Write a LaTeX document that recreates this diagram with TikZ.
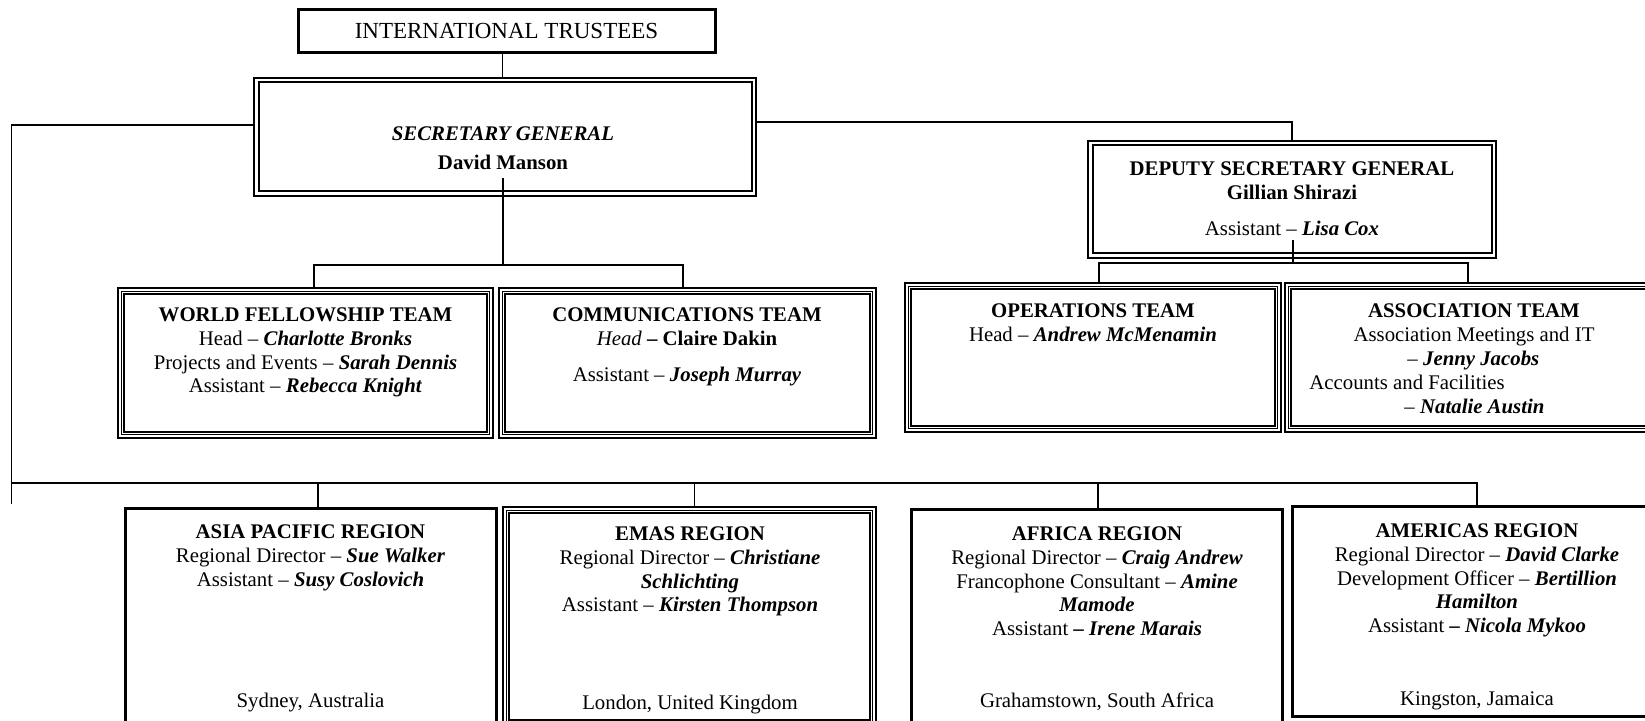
\documentclass[tikz,border=0pt]{standalone}
\usepackage{fontspec}
\setmainfont{Liberation Serif}
\usetikzlibrary{fit}

% bold italic names
\newcommand\nm[1]{\textbf{\textit{#1}}}
% centred stack of lines whose baseline is the first line
\newcommand\linesof[1]{\begin{tabular}[t]{@{}c@{}}#1\end{tabular}}
% a framed box spanning two corners (pixel units, y downwards)
\newcommand\orgbox[6]{\node[#2, fit={(#3,#4) (#5,#6)}] (#1) {};}
% an extra rule drawn inside a box at a given inset
\newcommand\boxinset[3]{\draw[line width=#3] ([shift={(#2,#2)}]#1.north west) rectangle ([shift={(-#2,-#2)}]#1.south east);}

\tikzset{
  conn/.style={line width=0.65pt},
  boxframe/.style={inner sep=0pt, outer sep=0pt, draw},
  onebox/.style={boxframe, line width=1.5pt},
  twobox/.style={boxframe, line width=1.15pt},
  threebox/.style={boxframe, line width=1.2pt},
  txt/.style={inner sep=0pt, anchor=base, font=\fontsize{10.4}{11.8}\selectfont},
  txtw/.style={txt, anchor=base west},
}

\begin{document}
\begin{tikzpicture}[x=0.5pt, y=-0.5pt]
\useasboundingbox (0,0) rectangle (1645,721);
\clip (0,0) rectangle (1645,721);

% ---------- boxes ----------
\orgbox{it}{onebox}{298.5}{9.5}{715.5}{52.5}
\orgbox{sg}{twobox}{254}{78}{756}{196}
\boxinset{sg}{4.5}{1pt}
\orgbox{dsg}{twobox}{1088}{141}{1496}{258}
\boxinset{dsg}{4.5}{1pt}

\orgbox{wf}{threebox}{118}{288}{493}{438}
\boxinset{wf}{3.2}{0.5pt}\boxinset{wf}{6}{0.8pt}
\orgbox{comm}{threebox}{499}{288}{876}{438}
\boxinset{comm}{3.2}{0.5pt}\boxinset{comm}{6}{0.8pt}
\orgbox{ops}{threebox}{905}{283}{1281}{432}
\boxinset{ops}{3.2}{0.5pt}\boxinset{ops}{6}{0.8pt}
\orgbox{assoc}{threebox}{1285}{283}{1662}{432}
\boxinset{assoc}{3.2}{0.5pt}\boxinset{assoc}{6}{0.8pt}

\orgbox{asia}{onebox}{125}{509}{496}{745}
\orgbox{emas}{threebox}{503}{507}{876}{726}
\boxinset{emas}{3.2}{0.5pt}\boxinset{emas}{6}{0.8pt}
\orgbox{africa}{onebox}{911}{510}{1282}{745}
\orgbox{americas}{onebox}{1292}{507}{1662}{716}

% ---------- connectors ----------
\coordinate (itdrop) at (502.5,53);
\draw[conn] (itdrop) -- (itdrop |- sg.north);

\draw[conn] (sg.east |- 0,122) -| (dsg.north);

\coordinate (sgtap) at (503,178);
\draw[conn] (sgtap) -- (503,265);
\draw[conn] (314,0 |- wf.north) |- (683,265) -- (683,0 |- comm.north);

\coordinate (dsgtap) at (1293,240);
\draw[conn] (dsgtap) -- (1293,263);
\draw[conn] (1099,0 |- ops.north) |- (1468,263) -- (1468,0 |- assoc.north);

\coordinate (regbus) at (11.5,483);
\draw[conn] (sg.west |- 0,125) -| (11.5,504);
\draw[conn] (regbus) -| (americas.north);
\foreach \x/\n in {318/asia, 694.5/emas, 1098/africa}
  \draw[conn] (\x,483) -- (\x,0 |- \n.north);

% ---------- texts ----------
\node[txt, font=\fontsize{11.5}{13}\selectfont] (itt) at (506.5,39) {INTERNATIONAL TRUSTEES};

\node[txt] (sgt) at (503,141) {\linesof{\nm{SECRETARY GENERAL}\\[2.7pt]\textbf{David Manson}}};

\node[txt] (dsgt) at (1292,176) {\linesof{\textbf{DEPUTY SECRETARY GENERAL}\\
  \textbf{Gillian Shirazi}\\[6.2pt]
  Assistant \textendash{} \nm{Lisa Cox}}};

\node[txt] (wft) at (305.5,322) {\linesof{\textbf{WORLD FELLOWSHIP TEAM}\\
  Head \textendash{} \nm{Charlotte Bronks}\\
  Projects and Events \textendash{} \nm{Sarah Dennis}\\
  Assistant \textendash{} \nm{Rebecca Knight}}};

\node[txt] (commt) at (687,322) {\linesof{\textbf{COMMUNICATIONS TEAM}\\
  \textit{Head} \textbf{\textendash{} Claire Dakin}\\[6.2pt]
  Assistant \textendash{} \nm{Joseph Murray}}};

\node[txt] (opst) at (1093,318) {\linesof{\textbf{OPERATIONS TEAM}\\
  Head \textendash{} \nm{Andrew McMenamin}}};

\node[txt] (assoct) at (1474,318) {\linesof{\textbf{ASSOCIATION TEAM}\\
  Association Meetings and IT}};
\node[txtw] (assoc1) at (1407,366) {\textendash{} \nm{Jenny Jacobs}};
\node[txtw] (assoc2) at (1309,390) {Accounts and Facilities};
\node[txtw] (assoc3) at (1404,414) {\textendash{} \nm{Natalie Austin}};

\node[txt] (asiat) at (310.5,539) {\linesof{\textbf{ASIA PACIFIC REGION}\\
  Regional Director \textendash{} \nm{Sue Walker}\\
  Assistant \textendash{} \nm{Susy Coslovich}}};
\node[txt] (asial) at (310.5,707) {Sydney, Australia};

\node[txt] (emast) at (690,541) {\linesof{\textbf{EMAS REGION}\\
  Regional Director \textendash{} \nm{Christiane}\\
  \nm{Schlichting}\\
  Assistant \textendash{} \nm{Kirsten Thompson}}};
\node[txt] (emasl) at (690,709) {London, United Kingdom};

\node[txt] (africat) at (1097,541) {\linesof{\textbf{AFRICA REGION}\\
  Regional Director \textendash{} \nm{Craig Andrew}\\
  Francophone Consultant \textendash{} \nm{Amine}\\
  \nm{Mamode}\\
  Assistant \nm{\textendash{} Irene Marais}}};
\node[txt] (africal) at (1097,707) {Grahamstown, South Africa};

\node[txt] (americast) at (1477,538) {\linesof{\textbf{AMERICAS REGION}\\
  Regional Director \textendash{} \nm{David Clarke}\\
  Development Officer \textendash{} \nm{Bertillion}\\
  \nm{Hamilton}\\
  Assistant \nm{\textendash{} Nicola Mykoo}}};
\node[txt] (americasl) at (1477,705) {Kingston, Jamaica};
\end{tikzpicture}
\end{document}
